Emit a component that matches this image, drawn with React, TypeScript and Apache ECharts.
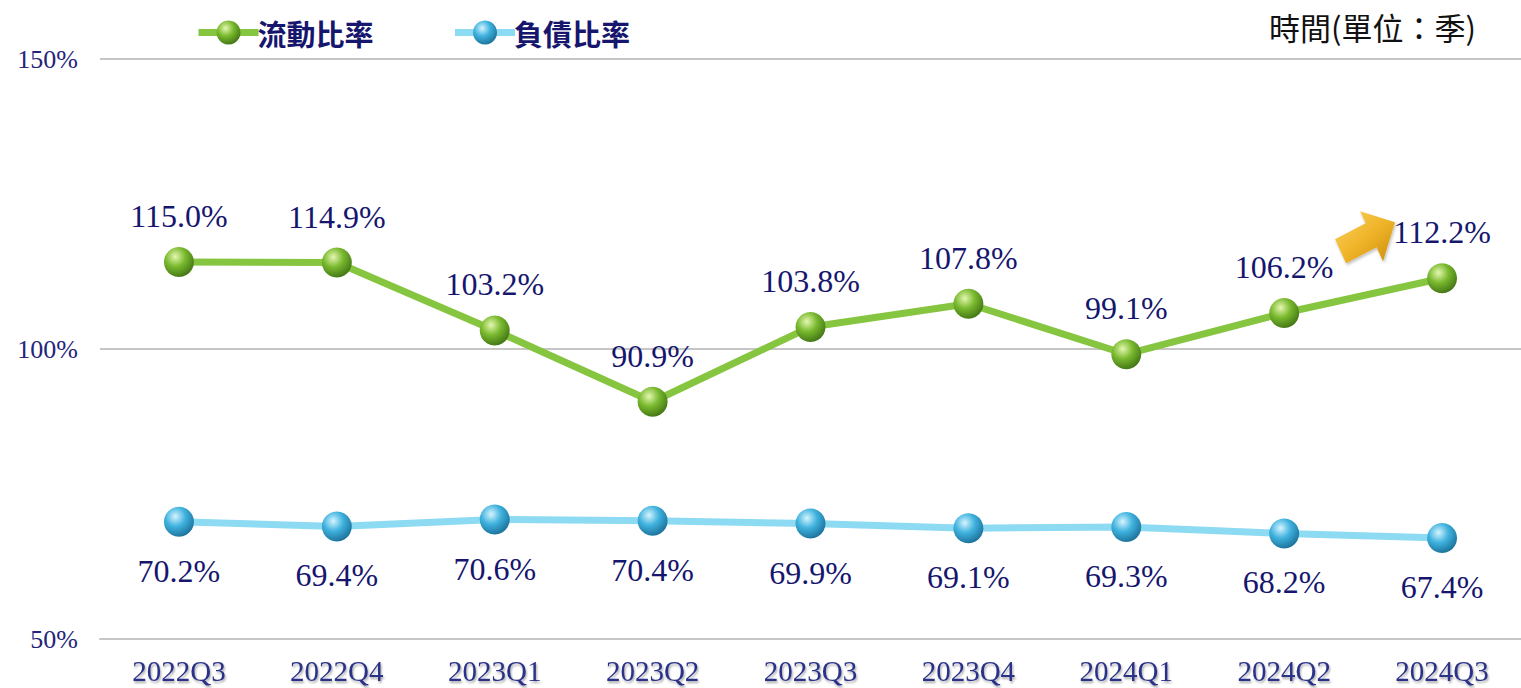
import React, { useEffect, useRef } from "react";
import * as echarts from "echarts";

const categories = ["2022Q3", "2022Q4", "2023Q1", "2023Q2", "2023Q3", "2023Q4", "2024Q1", "2024Q2", "2024Q3"];
const currentRatio = [115.0, 114.9, 103.2, 90.9, 103.8, 107.8, 99.1, 106.2, 112.2];
const debtRatio = [70.2, 69.4, 70.6, 70.4, 69.9, 69.1, 69.3, 68.2, 67.4];
const seriesNames = ["流動比率", "負債比率"];
const unitText = "時間(單位：季)";

const NAVY = "#16166e";
const SERIF = "'Liberation Serif', 'DejaVu Serif', serif";
const GREEN = "#86c540";
const BLUE = "#8ddaf3";

function sphere(hi: string, mid: string, edge: string) {
  return new echarts.graphic.RadialGradient(0.38, 0.32, 0.75, [
    { offset: 0, color: hi },
    { offset: 0.45, color: mid },
    { offset: 1, color: edge },
  ]);
}

export default function App() {
  const ref = useRef<HTMLDivElement>(null);
  useEffect(() => {
    if (!ref.current) return;
    const chart = echarts.init(ref.current, undefined, { renderer: "svg" });
    const greenBall = sphere("#e4f7b0", "#79b92e", "#3c6e12");
    const blueBall = sphere("#d4f4ff", "#3fb2de", "#176a92");
    const option: any = {
      animation: false,
      backgroundColor: "#ffffff",
      title: {
        text: unitText,
        right: 40,
        top: 6,
        textStyle: { fontFamily: "'Noto Sans CJK TC', sans-serif", fontSize: 31, fontWeight: "normal", color: "#111" },
      },
      legend: {
        left: 190,
        top: 13,
        itemGap: 78,
        itemWidth: 60,
        itemHeight: 30,
        textStyle: { fontFamily: "'Noto Sans CJK TC', sans-serif", fontSize: 29, fontWeight: "bold", color: NAVY, padding: [0, 0, 0, -6] },
        data: [
          { name: seriesNames[0], lineStyle: { color: GREEN, width: 7 }, itemStyle: { color: greenBall } },
          { name: seriesNames[1], lineStyle: { color: BLUE, width: 7 }, itemStyle: { color: blueBall } },
        ],
      },
      grid: { left: 100, right: 0, top: 59, bottom: 49, containLabel: false },
      xAxis: {
        type: "category",
        data: categories,
        boundaryGap: true,
        axisTick: { show: false },
        axisLine: { show: true, lineStyle: { color: "#c6c6c6", width: 2 } },
        axisLabel: {
          margin: 17,
          fontFamily: SERIF,
          fontSize: 29,
          color: "#2b3388",
          textShadowColor: "rgba(0,0,0,0.35)",
          textShadowBlur: 2,
          textShadowOffsetX: 1,
          textShadowOffsetY: 2,
        },
      },
      yAxis: {
        type: "value",
        min: 50,
        max: 150,
        interval: 50,
        axisLine: { show: false },
        axisTick: { show: false },
        splitLine: { lineStyle: { color: "#c6c6c6", width: 2 } },
        axisLabel: { formatter: "{value}%", fontFamily: SERIF, fontSize: 26, color: "#24247a", margin: 22 },
      },
      series: [
        {
          name: seriesNames[0],
          type: "line",
          data: currentRatio,
          symbol: "circle",
          symbolSize: 30,
          lineStyle: { color: GREEN, width: 7 },
          itemStyle: { color: greenBall, borderWidth: 0 },
          label: {
            show: true,
            position: "top",
            distance: 15,
            fontFamily: SERIF,
            fontSize: 32,
            color: NAVY,
            formatter: (p: any) => p.value.toFixed(1) + "%",
          },
          z: 3,
        },
        {
          name: seriesNames[1],
          type: "line",
          data: debtRatio,
          symbol: "circle",
          symbolSize: 30,
          lineStyle: { color: BLUE, width: 7 },
          itemStyle: { color: blueBall, borderWidth: 0 },
          label: {
            show: true,
            position: "bottom",
            distance: 18,
            fontFamily: SERIF,
            fontSize: 32,
            color: NAVY,
            formatter: (p: any) => p.value.toFixed(1) + "%",
          },
          z: 2,
        },
      ],
    };
    chart.setOption(option);

    // gold arrow anchored to the last current-ratio point
    const last = currentRatio.length - 1;
    const pt = chart.convertToPixel({ seriesIndex: 0 }, [last, currentRatio[last]]) as number[];
    if (pt) {
      const [px, py] = pt;
      const rel = [
        [-107, -39],
        [-76.5, -55],
        [-82, -67],
        [-47, -56],
        [-59, -17],
        [-65.5, -31],
        [-96, -15],
      ];
      chart.setOption({
        graphic: [
          {
            type: "polygon",
            shape: { points: rel.map(([dx, dy]) => [px + dx, py + dy]) },
            style: {
              fill: new echarts.graphic.LinearGradient(0, 0, 1, 1, [
                { offset: 0, color: "#f9d265" },
                { offset: 0.5, color: "#f0b52a" },
                { offset: 1, color: "#c98d0a" },
              ]),
              shadowColor: "rgba(0,0,0,0.25)",
              shadowBlur: 3,
              shadowOffsetX: 1,
              shadowOffsetY: 2,
            },
            z: 10,
          },
        ],
      });
    }
    return () => chart.dispose();
  }, []);
  return <div ref={ref} style={{ position: "fixed", left: 0, top: 0, width: 1521, height: 688 }} />;
}
